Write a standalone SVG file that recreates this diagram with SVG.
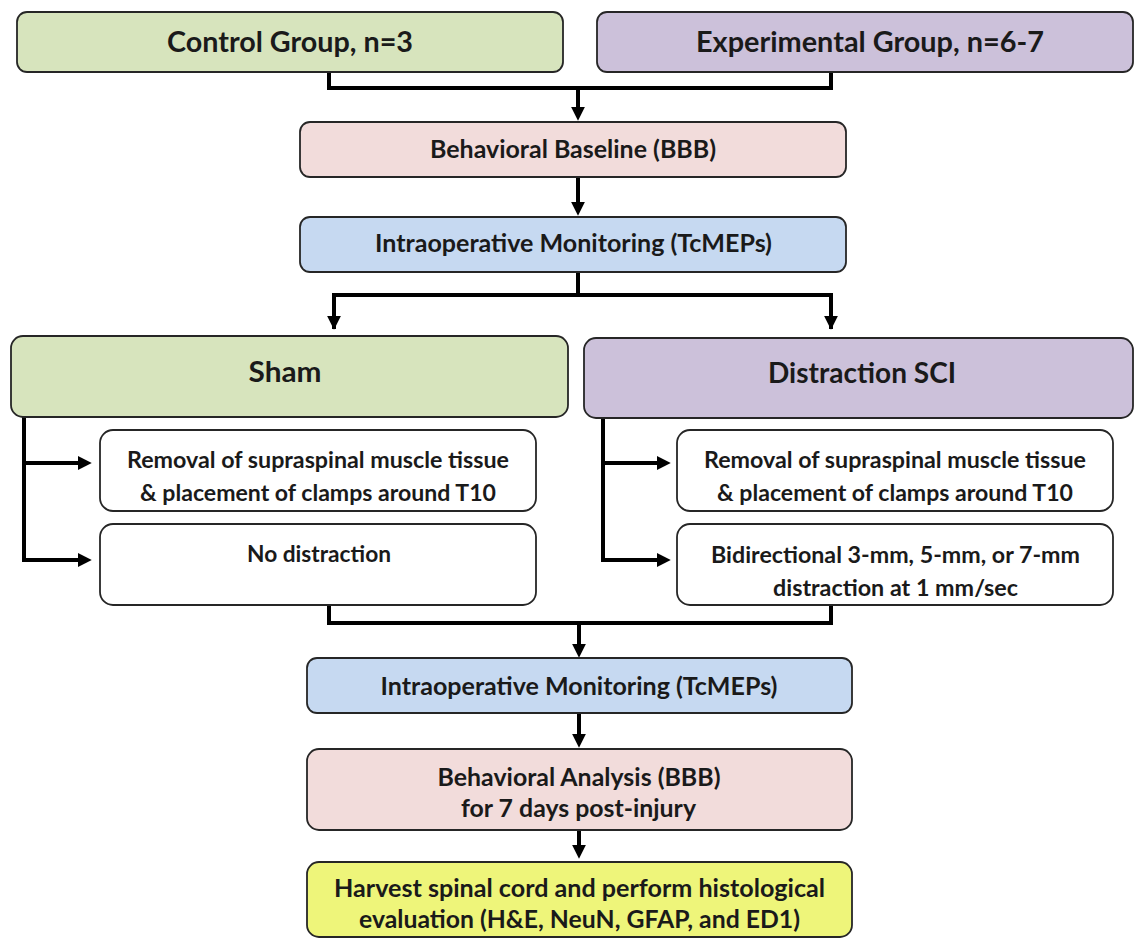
<svg xmlns="http://www.w3.org/2000/svg" width="1135" height="939" viewBox="0 0 1135 939">
  <style>
    .box { stroke: #262626; stroke-width: 1.8; }
    .green { fill: #D7E4BD; }
    .purple { fill: #CCC1DA; }
    .pink { fill: #F2DCDB; }
    .blue { fill: #C6D9F1; }
    .white { fill: #FFFFFF; }
    .yellow { fill: #EEF57A; }
    text { font-family: Lato, "Open Sans", "Liberation Sans", sans-serif; font-weight: bold; fill: #1a1a1a; text-anchor: middle; }
    .h1 { font-size: 28px; }
    .h2 { font-size: 24px; }
    .h3 { font-size: 22px; }
    .conn { fill: none; stroke: #000; stroke-width: 4; stroke-linejoin: miter; }
    .arr { marker-end: url(#ah); }
  </style>
  <defs>
    <marker id="ah" markerUnits="userSpaceOnUse" markerWidth="14" markerHeight="14" viewBox="0 0 13 13" refX="3" refY="6.5" orient="auto">
      <path d="M0,0 L13,6.5 L0,13 z" fill="#000"/>
    </marker>
  </defs>
  <rect width="1135" height="939" fill="#FFFFFF"/>

  <g id="connectors">
    <path class="conn" d="M329,72 V88 H831 V72"/>
    <path class="conn arr" d="M578,88 V110"/>
    <path class="conn arr" d="M578,177 V205"/>
    <path class="conn" d="M578,272 V295"/>
    <path class="conn" d="M334,329 V295 H831 V329" stroke-dasharray="none"/>
    <path class="conn arr" d="M334,295 V319"/>
    <path class="conn arr" d="M831,295 V319"/>
    <path class="conn" d="M24,417 V560"/>
    <path class="conn arr" d="M22,463 H81"/>
    <path class="conn arr" d="M22,560 H81"/>
    <path class="conn" d="M603,418 V560"/>
    <path class="conn arr" d="M601,463 H660"/>
    <path class="conn arr" d="M601,560 H660"/>
    <path class="conn" d="M329,605 V623 H831 V605"/>
    <path class="conn arr" d="M579,623 V647"/>
    <path class="conn arr" d="M579,713 V737"/>
    <path class="conn arr" d="M579,830 V848"/>
  </g>

  <g id="control">
    <rect class="box green" x="17" y="12" width="546" height="60" rx="10"/>
    <text class="h1" x="290" y="52" textLength="246" lengthAdjust="spacingAndGlyphs">Control Group, n=3</text>
  </g>
  <g id="experimental">
    <rect class="box purple" x="597" y="12" width="536" height="60" rx="10"/>
    <text class="h1" x="870" y="52" textLength="348" lengthAdjust="spacingAndGlyphs">Experimental Group, n=6-7</text>
  </g>
  <g id="baseline">
    <rect class="box pink" x="300" y="122" width="546" height="55" rx="10"/>
    <text class="h2" x="573" y="158" textLength="286" lengthAdjust="spacingAndGlyphs">Behavioral Baseline (BBB)</text>
  </g>
  <g id="monitoring1">
    <rect class="box blue" x="300" y="217" width="546" height="55" rx="10"/>
    <text class="h2" x="573.5" y="252" textLength="397" lengthAdjust="spacingAndGlyphs">Intraoperative Monitoring (TcMEPs)</text>
  </g>
  <g id="sham">
    <rect class="box green" x="11" y="336" width="557" height="81" rx="12"/>
    <text class="h1" x="285" y="382" textLength="73" lengthAdjust="spacingAndGlyphs">Sham</text>
  </g>
  <g id="distraction">
    <rect class="box purple" x="584" y="338" width="549" height="80" rx="12"/>
    <text class="h1" x="862" y="383" textLength="188" lengthAdjust="spacingAndGlyphs">Distraction SCI</text>
  </g>
  <g id="sham-removal">
    <rect class="box white" x="100" y="430" width="436" height="81" rx="13"/>
    <text class="h3" x="318" y="468" textLength="382" lengthAdjust="spacingAndGlyphs">Removal of supraspinal  muscle tissue</text>
    <text class="h3" x="318" y="501" textLength="356" lengthAdjust="spacingAndGlyphs">&amp; placement of clamps around T10</text>
  </g>
  <g id="sham-nodistraction">
    <rect class="box white" x="100" y="524" width="436" height="81" rx="13"/>
    <text class="h3" x="319" y="562" textLength="144" lengthAdjust="spacingAndGlyphs">No distraction</text>
  </g>
  <g id="sci-removal">
    <rect class="box white" x="677" y="430" width="436" height="81" rx="13"/>
    <text class="h3" x="895" y="468" textLength="382" lengthAdjust="spacingAndGlyphs">Removal of supraspinal  muscle tissue</text>
    <text class="h3" x="895" y="501" textLength="356" lengthAdjust="spacingAndGlyphs">&amp; placement of clamps around T10</text>
  </g>
  <g id="sci-distraction">
    <rect class="box white" x="677" y="524" width="436" height="81" rx="13"/>
    <text class="h3" x="895.5" y="563" textLength="369" lengthAdjust="spacingAndGlyphs">Bidirectional 3-mm, 5-mm, or 7-mm</text>
    <text class="h3" x="895.5" y="596" textLength="245" lengthAdjust="spacingAndGlyphs">distraction at 1 mm/sec</text>
  </g>
  <g id="monitoring2">
    <rect class="box blue" x="307" y="658" width="545" height="55" rx="10"/>
    <text class="h2" x="579" y="695" textLength="397" lengthAdjust="spacingAndGlyphs">Intraoperative Monitoring (TcMEPs)</text>
  </g>
  <g id="analysis">
    <rect class="box pink" x="307" y="749" width="545" height="81" rx="12"/>
    <text class="h2" x="579" y="786" textLength="283" lengthAdjust="spacingAndGlyphs">Behavioral Analysis (BBB)</text>
    <text class="h2" x="578.5" y="817" textLength="235" lengthAdjust="spacingAndGlyphs">for 7 days post-injury</text>
  </g>
  <g id="harvest">
    <rect class="box yellow" x="307" y="862" width="545" height="75" rx="12"/>
    <text class="h2" x="579.5" y="897" textLength="491" lengthAdjust="spacingAndGlyphs">Harvest spinal cord and perform histological</text>
    <text class="h2" x="579.5" y="928" textLength="441" lengthAdjust="spacingAndGlyphs">evaluation (H&amp;E, NeuN, GFAP, and ED1)</text>
  </g>
</svg>
